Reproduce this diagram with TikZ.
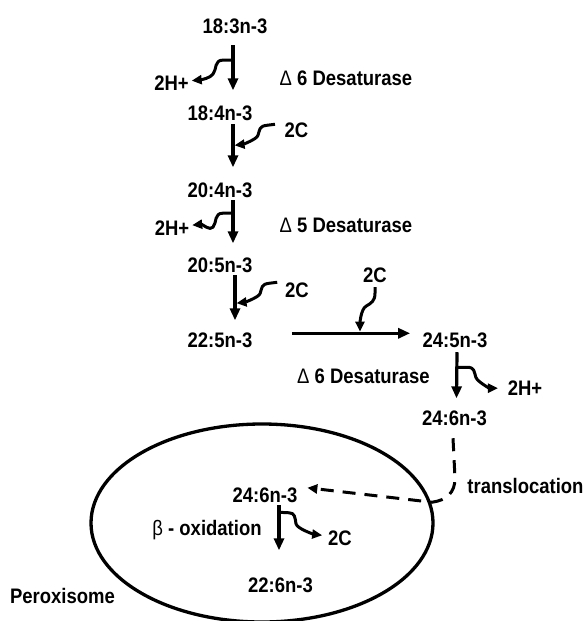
\documentclass[tikz,border=0pt]{standalone}
\usepackage{fontspec}
\setmainfont{Liberation Sans}[FakeStretch=0.88]
\usetikzlibrary{arrows.meta,calc,shapes.geometric}
\begin{document}
\begin{tikzpicture}[x=1pt,y=-1pt,
  lbl/.style={font=\fontsize{21}{25}\selectfont\bfseries, inner sep=0pt, outer sep=0pt, anchor=base},
  main/.style={line width=3.2pt, -{Triangle[length=12pt,width=10pt]}},
  wiggle/.style={line width=3pt, line join=round, -{Triangle[length=10pt,width=9pt]}},
  transfer/.style={line width=3pt, dash pattern=on 13pt off 9pt, -{Triangle[length=10pt,width=9pt]}},
  membrane/.style={draw, line width=3.3pt, ellipse, inner sep=0pt, minimum width=342pt, minimum height=198pt}]
\useasboundingbox (0,0) rectangle (587,621);

% peroxisome membrane
\node[membrane] (perox) at (262,523) {};

% fatty acids, elongation / desaturation chain
\node[lbl] (n183) at (235,33.5) {18:3n-3};
\node[lbl] (n184) at (220,120) {18:4n-3};
\node[lbl] (n204) at (220,197) {20:4n-3};
\node[lbl] (n205) at (220,272) {20:5n-3};
\node[lbl] (n225) at (220,347) {22:5n-3};
\node[lbl] (n245) at (455,347) {24:5n-3};
\node[lbl] (n246) at (454.5,425) {24:6n-3};
\node[lbl] (m246) at (265,502) {24:6n-3};
\node[lbl] (m226) at (280.5,592) {22:6n-3};

% side products / inputs
\node[lbl] (h1) at (171.5,90) {2H+};
\node[lbl] (h2) at (172,235) {2H+};
\node[lbl] (h3) at (525,395) {2H+};
\node[lbl] (c1) at (296.5,137) {2C};
\node[lbl] (c2) at (297,297) {2C};
\node[lbl] (c3) at (375,282) {2C};
\node[lbl] (c4) at (340,545) {2C};

% enzyme and process labels
\node[lbl] (d1) at (346,85) {{\mdseries Δ} 6 Desaturase};
\node[lbl] (d2) at (346,232) {{\mdseries Δ} 5 Desaturase};
\node[lbl] (d3) at (363.5,383) {{\mdseries Δ} 6 Desaturase};
\node[lbl] (tr) at (525.5,493) {translocation};
\node[lbl] (bo) at (207,535) {{\mdseries β} - oxidation};
\node[lbl] (px) at (62.5,603) {Peroxisome};

% main reaction arrows
\draw[main] ($(n183.south)+(-2,11.5)$) -- coordinate[pos=0.33] (j1) ($(n184.north)+(13,-15)$);
\draw[main] ($(n184.south)+(13,4)$) -- coordinate[pos=0.49] (j3) ($(n204.north)+(13,-15)$);
\draw[main] ($(n204.south)+(13,3)$) -- coordinate[pos=0.30] (j2) ($(n205.north)+(13,-14)$);
\draw[main] ($(n205.south)+(15,3)$) -- coordinate[pos=0.62] (j4) ($(n225.north)+(15,-12)$);
\draw[main] ($(n225.east)+(39.5,-6.5)$) -- coordinate[pos=0.576] (j5) ($(n245.west)+(-12.5,-6.5)$);
\draw[main] ($(n245.south)+(2,5)$) -- coordinate[pos=0.326] (j6) ($(n246.north)+(2,-12)$);
\draw[main] ($(m246.south)+(14,3)$) -- coordinate[pos=0.156] (j7) ($(m226.north)+(-1.5,-27)$);

% released hydrogens
\draw[wiggle] (j1) -- ++(-10,0) .. controls +(-9,0) and +(4,-5) .. ++(-10,14)
  .. controls +(-3,4) and +(10,-1) .. ($(h1.east)+(3,-2)$);
\draw[wiggle] (j2) -- ++(-10,0) .. controls +(-9,0) and +(4,-5) .. ++(-10,14)
  .. controls +(-3,4) and +(10,-1) .. ($(h2.east)+(3,-2.5)$);
\draw[wiggle] (j6) -- ++(10,0) .. controls +(8,0) and +(-2,-6) .. ++(9,10)
  .. controls +(2,5) and +(-8,0) .. ($(h3.west)+(-9.8,0.5)$);

% two-carbon units added / removed
\draw[wiggle] ($(c1.west)+(-9.7,-5.5)$) -- ++(-8,1) .. controls +(-8,1) and +(2,-6) .. ++(-9,10)
  .. controls +(-1,4) and +(8,-1) .. ([xshift=1.6pt]j3);
\draw[wiggle] ($(c2.west)+(-8,-7.5)$) -- ++(-8,1) .. controls +(-8,1) and +(2,-6) .. ++(-9,10)
  .. controls +(-1,4) and +(8,-1) .. ([xshift=1.6pt]j4);
\draw[wiggle] ($(c3.south)+(0,5)$) -- ++(0,6) .. controls +(0,8) and +(5,-3) .. ++(-9,13)
  .. controls +(-5,3) and +(0,-9) .. ([yshift=1.6pt]j5);
\draw[wiggle] (j7) -- ++(10,0.5) .. controls +(6,0) and +(-1,-6) .. ++(7,11)
  .. controls +(1,5) and +(-8,-1) .. ($(c4.west)+(-6,-2.5)$);

% translocation into the peroxisome
\draw[transfer] ($(n246.south)+(-1.5,13)$) -- ++(2,40) .. controls +(0,14) and +(15,-2) .. ++(-23,24)
  -- ($(m246.east)+(10,-7)$);
\end{tikzpicture}
\end{document}
